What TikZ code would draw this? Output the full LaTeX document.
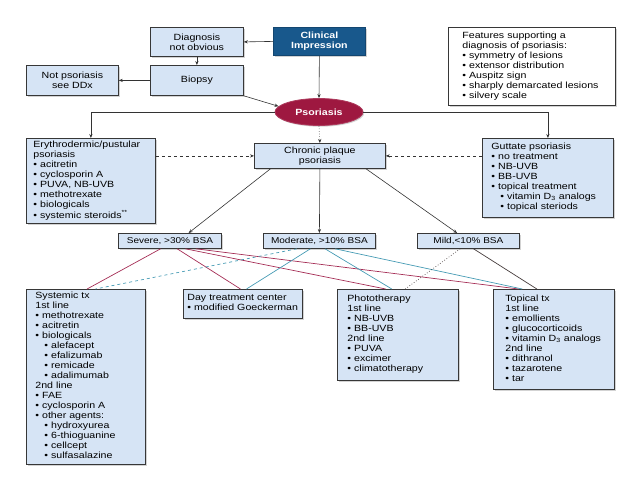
\documentclass[tikz,border=0pt]{standalone}
\usepackage{fontspec}
\setmainfont{Liberation Sans}[FakeStretch=1.18]
\usetikzlibrary{arrows.meta,shapes.geometric,shadows,calc}
\definecolor{boxfill}{RGB}{214,228,245}
\definecolor{boxline}{RGB}{55,55,55}
\definecolor{clinblue}{RGB}{24,88,140}
\definecolor{psorred}{RGB}{158,24,64}
\definecolor{crimline}{RGB}{165,45,85}
\definecolor{tealline}{RGB}{70,155,180}
\definecolor{darkline}{RGB}{70,60,60}
\newcommand\myb{\textbullet~}
\newcommand\mysb{\hspace*{9pt}\textbullet~}
\newcommand\lnk[5]{\draw[#1] ($(#2.south west)!#3!(#2.south east)$) -- ($(#4.north west)!#5!(#4.north east)$);}
\tikzset{
  shad/.style={drop shadow={shadow xshift=1.2pt,shadow yshift=-1.2pt,opacity=0.35}},
  box/.style={rectangle, draw=boxline, fill=boxfill, line width=0.8pt, inner sep=0pt,
    anchor=north west, font=\fontsize{9}{10}\selectfont, shad},
  cbox/.style={box, align=center},
  lbox/.style={box, align=left},
  sevbox/.style={box, align=center, font=\fontsize{8.5}{10}\selectfont},
  arr/.style={-{Stealth[length=4pt,width=3.2pt]}, line width=0.6pt, draw=black!80},
  crim/.style={draw=crimline, line width=0.7pt},
  tealc/.style={draw=tealline, line width=0.7pt},
  darkc/.style={draw=darkline, line width=0.7pt},
}
\begin{document}
\begin{tikzpicture}[x=1pt,y=-1pt]
\useasboundingbox (0,0) rectangle (638,479);

\node[cbox, fill=clinblue, draw=clinblue!80!black, text=white, font=\fontsize{9}{10}\selectfont\bfseries,
  minimum width=92pt, minimum height=28pt] (clin) at (273,27) {Clinical\\Impression};
\node[cbox, minimum width=93pt, minimum height=29pt] (diag) at (150,27) {Diagnosis\\not obvious};
\node[cbox, minimum width=93pt, minimum height=30pt] (biop) at (150,65) {Biopsy};
\node[cbox, minimum width=92pt, minimum height=30pt] (notp) at (26,65) {Not psoriasis\\see DDx};
\node[lbox, fill=white, inner xsep=14pt, text width=139pt, minimum height=78pt] (feat) at (448,27)
 {\begin{tabular}{@{}l@{}}Features supporting a\\ diagnosis of psoriasis:\\ \myb symmetry of lesions\\ \myb extensor distribution\\ \myb Auspitz sign\\ \myb sharply demarcated lesions\\ \myb silvery scale\end{tabular}};

\node[ellipse, fill=psorred, draw=psorred!85!white, line width=0.8pt, minimum width=88pt, minimum height=27pt,
  inner sep=0pt, text=white, font=\fontsize{9}{10}\selectfont\bfseries, shad] (psor) at (319,112) {Psoriasis};

\node[lbox, inner xsep=7pt, text width=115pt, minimum height=85pt] (eryth) at (26,138)
 {\begin{tabular}{@{}l@{}}Erythrodermic/pustular\\ psoriasis\\ \myb acitretin\\ \myb cyclosporin A\\ \myb PUVA, NB-UVB\\ \myb methotrexate\\ \myb biologicals\\ \myb systemic steroids\textsuperscript{**}\end{tabular}};
\node[cbox, minimum width=131pt, minimum height=25pt] (chron) at (254,143) {Chronic plaque\\psoriasis};
\node[lbox, inner xsep=9pt, text width=113pt, minimum height=79pt] (gutt) at (482,138)
 {\begin{tabular}{@{}l@{}}Guttate psoriasis\\ \myb no treatment\\ \myb NB-UVB\\ \myb BB-UVB\\ \myb topical treatment\\ \mysb vitamin D\textsubscript{3} analogs\\ \mysb topical steriods\end{tabular}};

\node[sevbox, minimum width=103pt, minimum height=15pt] (sev) at (118,233) {Severe, >30\% BSA};
\node[sevbox, minimum width=112pt, minimum height=15pt] (mod) at (263,233) {Moderate, >10\% BSA};
\node[sevbox, minimum width=102pt, minimum height=15pt] (mild) at (417,233) {Mild,<10\% BSA};

\node[lbox, inner xsep=9pt, text width=101pt, minimum height=175pt] (sys) at (26,289)
 {\begin{tabular}{@{}l@{}}Systemic tx\\ 1st line\\ \myb methotrexate\\ \myb acitretin\\ \myb biologicals\\ \mysb alefacept\\ \mysb efalizumab\\ \mysb remicade\\ \mysb adalimumab\\ 2nd line\\ \myb FAE\\ \myb cyclosporin A\\ \myb other agents:\\ \mysb hydroxyurea\\ \mysb 6-thioguanine\\ \mysb cellcept\\ \mysb sulfasalazine\end{tabular}};
\node[lbox, inner xsep=4pt, text width=111pt, minimum height=29pt] (day) at (183,289)
 {\begin{tabular}{@{}l@{}}Day treatment center\\ \myb modified Goeckerman\end{tabular}};
\node[lbox, inner xsep=10pt, text width=101pt, minimum height=91pt] (photo) at (337,289)
 {\begin{tabular}{@{}l@{}}Phototherapy\\ 1st line\\ \myb NB-UVB\\ \myb BB-UVB\\ 2nd line\\ \myb PUVA\\ \myb excimer\\ \myb climatotherapy\end{tabular}};
\node[lbox, inner xsep=12pt, text width=97pt, minimum height=100pt] (top) at (493,289)
 {\begin{tabular}{@{}l@{}}Topical tx\\ 1st line\\ \myb emollients\\ \myb glucocorticoids\\ \myb vitamin D\textsubscript{3} analogs\\ 2nd line\\ \myb dithranol\\ \myb tazarotene\\ \myb tar\end{tabular}};

% connectors
\draw[arr] (clin.west) -- (diag.east);
\draw[arr] (clin.south) -- (psor.north);
\draw[arr] (diag.south) -- (biop.north);
\draw[arr] (biop.west) -- (notp.east);
\draw[arr] (biop.south east) -- (psor.172);
\draw[arr] (psor.west) -| (eryth.north);
\draw[arr] (psor.east) -| (gutt.north);
\draw[arr, dotted] (psor.south) -- (chron.north);
\draw[arr, dashed] (eryth.east |- chron.west) -- (chron.west);
\draw[arr, dashed] (gutt.west |- chron.east) -- (chron.east);
\draw[arr] ($(chron.south west)!0.125!(chron.south east)$) -- ($(sev.north west)!0.68!(sev.north east)$);
\draw[arr] (chron.south) -- (mod.north);
\draw[arr] ($(chron.south west)!0.85!(chron.south east)$) -- ($(mild.north west)!0.39!(mild.north east)$);

\lnk{crim}{sev}{0.41}{sys}{0.51}
\lnk{crim}{sev}{0.57}{day}{0.48}
\lnk{crim}{sev}{0.65}{photo}{0.40}
\lnk{crim}{sev}{0.75}{top}{0.21}
\lnk{tealc, dashed}{mod}{0.30}{sys}{0.58}
\lnk{tealc}{mod}{0.42}{day}{0.53}
\lnk{tealc}{mod}{0.55}{photo}{0.45}
\lnk{tealc}{mod}{0.64}{top}{0.24}
\lnk{darkc, dotted}{mild}{0.42}{photo}{0.56}
\lnk{darkc}{mild}{0.55}{top}{0.36}
\end{tikzpicture}
\end{document}
